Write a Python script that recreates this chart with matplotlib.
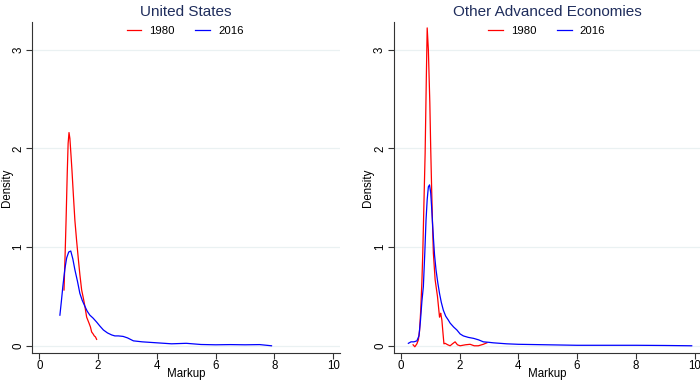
import matplotlib
matplotlib.use("Agg")
import matplotlib.pyplot as plt

plt.rcParams['font.family'] = ['Liberation Sans', 'DejaVu Sans']

# United States
us_1980_x = [0.84, 0.88, 0.91, 0.95, 0.98, 1.01, 1.04, 1.08, 1.11, 1.16, 1.21, 1.27, 1.33,
             1.38, 1.44, 1.50, 1.55, 1.61, 1.65, 1.69, 1.74, 1.78, 1.83, 1.87, 1.91, 1.95]
us_1980_y = [0.565, 0.95, 1.27, 1.75, 2.05, 2.16, 2.10, 1.92, 1.78, 1.52, 1.27, 1.06, 0.87,
             0.72, 0.565, 0.48, 0.40, 0.29, 0.26, 0.23, 0.19, 0.14, 0.12, 0.10, 0.09, 0.065]
us_2016_x = [0.70, 0.75, 0.80, 0.87, 0.93, 1.00, 1.07, 1.14, 1.21, 1.30, 1.38, 1.46, 1.55,
             1.63, 1.72, 1.83, 1.95, 2.06, 2.18, 2.32, 2.46, 2.57, 2.69, 2.85, 3.0, 3.2,
             3.5, 4.0, 4.5, 5.0, 5.5, 6.0, 6.5, 7.0, 7.5, 7.9]
us_2016_y = [0.31, 0.45, 0.60, 0.78, 0.89, 0.95, 0.96, 0.88, 0.77, 0.65, 0.53, 0.46, 0.40,
             0.35, 0.31, 0.28, 0.24, 0.20, 0.16, 0.13, 0.11, 0.10, 0.10, 0.095, 0.08, 0.05,
             0.04, 0.03, 0.02, 0.025, 0.013, 0.01, 0.012, 0.01, 0.012, 0.0]

# Other advanced economies
oae_1980_x = [0.42, 0.48, 0.55, 0.60, 0.64, 0.68, 0.72, 0.75, 0.79, 0.83, 0.87, 0.90, 0.94,
              0.99, 1.02, 1.05, 1.08, 1.11, 1.17, 1.25, 1.30, 1.32, 1.34, 1.36, 1.40, 1.44,
              1.47, 1.51, 1.60, 1.68, 1.76, 1.85, 1.93, 2.02, 2.2, 2.36, 2.5, 2.64, 2.81, 2.93]
oae_1980_y = [0.01, -0.01, 0.02, 0.06, 0.15, 0.36, 0.65, 0.94, 1.45, 1.95, 2.7, 3.22, 3.0,
              2.46, 2.0, 1.61, 1.25, 0.94, 0.67, 0.50, 0.35, 0.29, 0.31, 0.33, 0.26, 0.12,
              0.02, 0.025, 0.01, 0.0, 0.02, 0.04, 0.01, 0.0, 0.01, 0.015, 0.0, 0.0, 0.015, 0.03]
oae_2016_x = [0.26, 0.35, 0.45, 0.55, 0.62, 0.67, 0.72, 0.77, 0.82, 0.86, 0.90, 0.94, 0.98,
              1.02, 1.05, 1.08, 1.11, 1.15, 1.20, 1.26, 1.32, 1.38, 1.45, 1.53, 1.62, 1.68,
              1.80, 1.91, 2.02, 2.13, 2.3, 2.48, 2.65, 2.81, 3.0, 3.15, 3.6, 4.0, 5.0, 6.0,
              7.0, 8.0, 9.0, 9.9]
oae_2016_y = [0.025, 0.04, 0.04, 0.05, 0.1, 0.25, 0.45, 0.6, 0.95, 1.27, 1.48, 1.61, 1.63,
              1.55, 1.41, 1.25, 1.1, 0.92, 0.77, 0.64, 0.53, 0.44, 0.36, 0.30, 0.26, 0.23,
              0.19, 0.16, 0.12, 0.10, 0.085, 0.075, 0.06, 0.04, 0.035, 0.03, 0.02, 0.015, 0.01,
              0.005, 0.005, 0.005, 0.003, 0.0]

panels = [
    ("United States", us_1980_x, us_1980_y, us_2016_x, us_2016_y),
    ("Other Advanced Economies", oae_1980_x, oae_1980_y, oae_2016_x, oae_2016_y),
]

fig = plt.figure(figsize=(7, 3.81), dpi=100)
lefts = [0.0461, 0.5624]

for left, (title, x80, y80, x16, y16) in zip(lefts, panels):
    ax = fig.add_axes([left, 0.0743, 0.4396, 0.868])
    ax.plot(x80, y80, color='#ff0000', lw=0.9, label='1980')
    ax.plot(x16, y16, color='#0000ff', lw=0.9, label='2016')

    ax.set_xlim(-0.24, 10.23)
    ax.set_ylim(-0.07, 3.28)
    ax.set_xticks([0, 2, 4, 6, 8, 10])
    ax.set_yticks([0, 1, 2, 3])
    ax.grid(axis='y', color='#eaf1f2', lw=0.9)
    ax.set_axisbelow(True)
    for s in ['top', 'right']:
        ax.spines[s].set_visible(False)
    for s in ['left', 'bottom']:
        ax.spines[s].set_color('#333333')
        ax.spines[s].set_linewidth(0.8)
    ax.tick_params(axis='both', length=4, width=0.8, color='#333333',
                   labelsize=8.3, pad=1.5)
    for lab in ax.get_yticklabels():
        lab.set_rotation(90)
        lab.set_va('center')

    ax.set_xlabel('Markup', fontsize=8.3)
    ax.xaxis.set_label_coords(0.5, -0.064)
    ax.xaxis.label.set_va('center')
    ax.set_ylabel('Density', fontsize=8.3)
    ax.yaxis.set_label_coords(-0.083, 0.5)
    ax.yaxis.label.set_va('center')
    ax.set_title(title, fontsize=11, color='#1f2d5c', pad=4)
    ax.legend(loc='center', bbox_to_anchor=(0.497, 0.974), ncol=2, frameon=False,
              fontsize=8.2, handlelength=1.3, columnspacing=1.8, handletextpad=0.7)

fig.savefig('out.png', dpi=100)
